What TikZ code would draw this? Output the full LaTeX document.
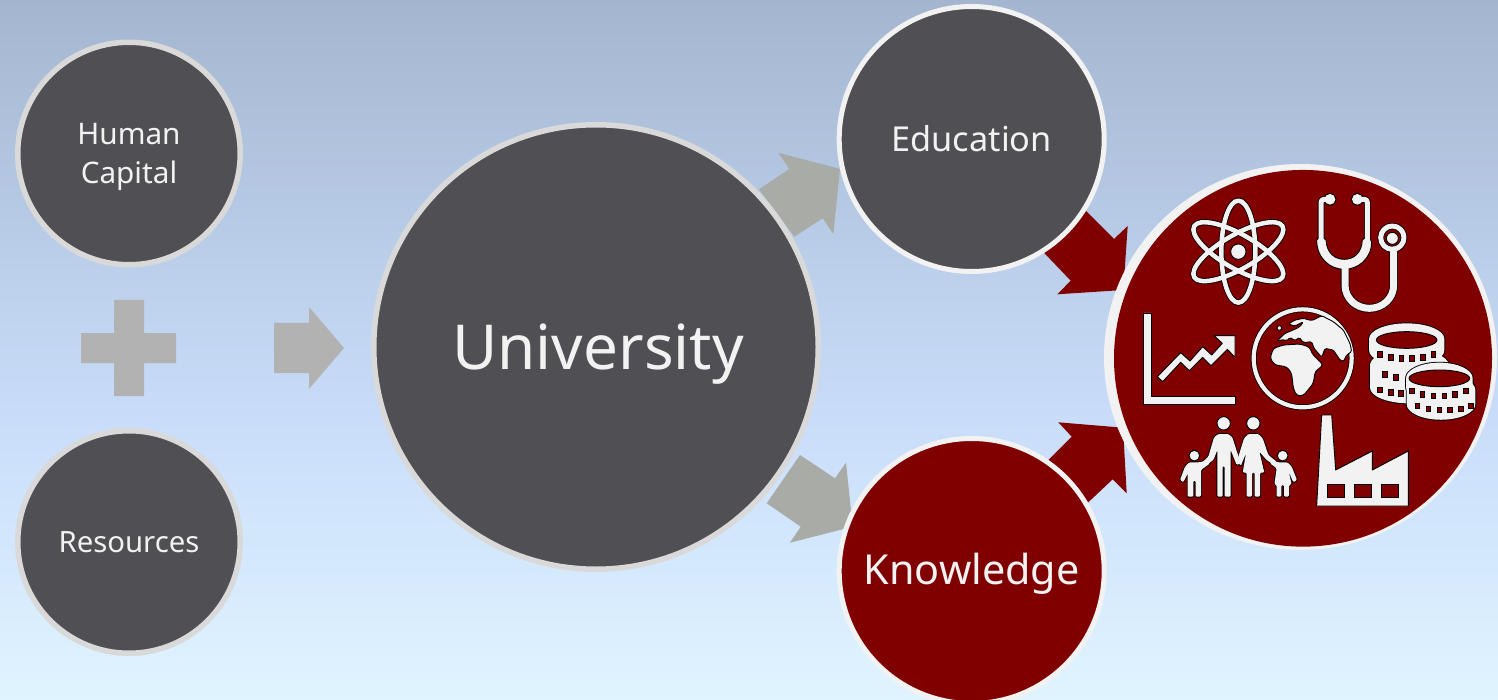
\documentclass[tikz,border=0pt]{standalone}
\usepackage{fontspec}
\usetikzlibrary{shapes.geometric}
\setmainfont{Noto Sans}
\definecolor{bgtop}{RGB}{164,182,207}
\definecolor{bgmid}{RGB}{201,221,250}
\definecolor{bgbot}{RGB}{224,244,255}
\definecolor{darkc}{RGB}{80,79,84}
\definecolor{maroonc}{RGB}{128,0,0}
\definecolor{ringa}{RGB}{217,217,217}
\definecolor{ringb}{RGB}{242,242,242}
\definecolor{plusc}{RGB}{178,178,178}
\definecolor{arrowc}{RGB}{169,171,167}
\pgfdeclareverticalshading{bgsh}{100bp}{color(0bp)=(bgbot); color(25bp)=(bgbot); color(45bp)=(bgmid); color(75bp)=(bgtop); color(100bp)=(bgtop)}
\tikzset{
  bubble/.style={circle,inner sep=0pt,align=center,text=ringb},
  ic/.style={fill=ringb,draw=black,line width=.9pt,line join=round},
  hole/.style={fill=maroonc,draw=black,line width=.9pt},
  edgepass/.style={draw=black,line width=1.8pt,line join=round},
  fillpass/.style={fill=ringb},
  blockgray/.style={fill=arrowc},
  blockplus/.style={fill=plusc},
  blockred/.style={fill=maroonc},
  outl/.style={draw=black,line cap=round,line join=round},
  inl/.style={draw=ringb,line cap=round,line join=round}
}
\newcommand\twopass[2]{\draw[outl,line width=#1pt+1.6pt] #2; \draw[inl,line width=#1pt] #2;}
\newcommand\coinbody[6]{%
  \begin{scope}[shift={(#2,#3)},xscale=#4,yscale=#5]
    \path[#1] (-1,0) .. controls (-1,-.55) and (-.55,-1) .. (0,-1)
      .. controls (.55,-1) and (1,-.55) .. (1,0) -- (1,#6)
      .. controls (1,{#6+.55}) and (.55,{#6+1}) .. (0,{#6+1})
      .. controls (-.55,{#6+1}) and (-1,{#6+.55}) .. (-1,#6) -- cycle;
  \end{scope}}
\newcommand\coinhole[2]{%
  \begin{scope}[shift={(#1,#2)},xscale=91,yscale=25]
    \draw[hole] (0,0) circle (1);
  \end{scope}}
\newcommand\slot[2]{\draw[hole] (#1-7,#2-8) rectangle (#1+7,#2+8);}
\newcommand\familyshapes[1]{%
  \path[#1,rounded corners=1.2pt] (322,410) -- (338,410) -- (338,318) -- (344,318) -- (344,410) -- (362,410) -- (362,270) -- (380,315) -- (392,310)
    -- (367,232) -- (355,222) -- (325,222) -- (312,232) -- (295,290) -- (268,315) -- (275,325) -- (310,300) -- (322,270) -- cycle;
  \path[#1,rounded corners=1.2pt] (398,338) -- (410,338) -- (410,410) -- (426,410) -- (426,338) -- (434,338) -- (434,410) -- (450,410) -- (450,338)
    -- (463,338) -- (448,275) -- (470,300) -- (497,318) -- (500,305) -- (475,285) -- (458,235) -- (445,222) -- (415,222)
    -- (402,235) -- (382,300) -- (392,318) -- (408,280) -- cycle;
  \path[#1,rounded corners=1.2pt] (233,410) -- (250,410) -- (250,362) -- (257,362) -- (257,410) -- (273,410) -- (273,330) -- (300,310) -- (295,300)
    -- (268,307) -- (238,307) -- (225,320) -- (210,360) -- (220,367) -- (233,340) -- cycle;
  \path[#1,rounded corners=1.2pt] (500,410) -- (514,410) -- (514,375) -- (522,375) -- (522,410) -- (537,410) -- (537,375) -- (545,373) -- (536,335)
    -- (550,367) -- (561,360) -- (545,320) -- (532,307) -- (504,307) -- (485,300) -- (480,310) -- (500,325) -- (493,373) -- (500,375) -- cycle;
}
\begin{document}
\begin{tikzpicture}[x=1pt,y=-1pt]
\useasboundingbox (0,0) rectangle (1498,700);
\shade[shading=bgsh] (0,0) rectangle (1498,700);

\fill[blockplus] (114,300) -- (144,300) -- (144,333) -- (176,333) -- (176,363) -- (144,363)
  -- (144,396) -- (114,396) -- (114,363) -- (81,363) -- (81,333) -- (114,333) -- cycle;
\fill[blockplus] (274,323) -- (309,323) -- (309,307) -- (344,348) -- (309,389) -- (309,373) -- (274,373) -- cycle;

\fill[blockgray] (759,189.3) -- (789.3,169) -- (778.3,152.7) -- (840,169) -- (833.3,234)
  -- (822.7,218.3) -- (794.3,236.7) -- cycle;
\fill[blockgray] (800,455) -- (835,478.3) -- (846,462.7) -- (852.7,526.7) -- (790,542.7)
  -- (800.7,526.7) -- (766.7,503.3) -- cycle;
\fill[blockred] (1076.7,201.7) -- (1114,239) -- (1127.7,226) -- (1123.3,290) -- (1057.3,294.3)
  -- (1070.7,280.7) -- (1035,243.3) -- cycle;
\fill[blockred] (1038.3,470) -- (1071.7,436.7) -- (1058.3,422.3) -- (1123,427.7) -- (1126.7,493.3)
  -- (1112.7,479.3) -- (1078.3,511.7) -- cycle;

\node[bubble,fill=darkc,draw=ringa,line width=5.5pt,minimum size=222.5pt,font=\fontsize{29.7}{39}\selectfont] (human) at (129,153.5) {\rule{0pt}{29pt}Human\\Capital};
\node[bubble,fill=darkc,draw=ringa,line width=5.5pt,minimum size=222.5pt,font=\fontsize{29.3}{39}\selectfont] (resources) at (129,542) {Resources};
\node[bubble,fill=darkc,draw=ringa,line width=5.5pt,minimum size=444.5pt,font=\fontsize{62}{70}\selectfont,text height=59pt,text depth=15pt] (university) at (596,347) {\hspace*{4pt}University};
\node[bubble,fill=darkc,draw=ringb,line width=5pt,minimum size=265pt,font=\fontsize{34.3}{40}\selectfont] (education) at (971.7,139) {Education};
\node[bubble,fill=maroonc,draw=ringb,line width=5pt,minimum size=265pt,font=\fontsize{41.3}{46}\selectfont,text height=37pt,text depth=10pt] (knowledge) at (971.7,571) {Knowledge};
\node[ellipse,fill=ringb,inner sep=0pt,minimum width=393pt,minimum height=386pt] (society) at (1300.5,357) {};
\node[ellipse,fill=maroonc,inner sep=0pt,minimum width=378pt,minimum height=376.7pt] (societyin) at (1303,358.3) {};

\begin{scope}[shift={(1110,170)},scale=1/3]
  \foreach \a in {0,60,120} \draw[outl,line width=6.2pt,rotate around={\a:(385,245)}] (385,245) ellipse (51 and 153);
  \foreach \a in {0,60,120} \draw[inl,line width=4.5pt,rotate around={\a:(385,245)}] (385,245) ellipse (51 and 153);
  \draw[ic] (385,245) circle (23);
  \begin{scope}[outl,line width=8.6pt]
    \draw (705,290) -- (705,345) .. controls (705,385) and (738,415) .. (778,415) .. controls (818,415) and (851,385) .. (851,345) -- (851,240);
  \end{scope}
  \begin{scope}[outl,line width=6.6pt]
    \draw[rounded corners=3pt] (660,88) -- (633,88) -- (633,215);
    \draw[rounded corners=3pt] (742,88) -- (772,88) -- (772,215);
    \draw (847,203) circle (35);
  \end{scope}
  \filldraw[outl,fill=black,line width=1.6pt] (660,88) circle (17) (742,88) circle (17);
  \draw[ic] (620,210) .. controls (625,200) and (640,200) .. (648,210) .. controls (650,250) and (675,268) .. (703,268)
     .. controls (730,268) and (755,250) .. (757,210) .. controls (765,200) and (780,200) .. (785,215)
     .. controls (785,265) and (745,298) .. (703,298) .. controls (660,298) and (620,265) .. (620,210) -- cycle;
  \begin{scope}[inl,line width=7pt]
    \draw (705,290) -- (705,345) .. controls (705,385) and (738,415) .. (778,415) .. controls (818,415) and (851,385) .. (851,345) -- (851,240);
  \end{scope}
  \begin{scope}[inl,line width=5pt]
    \draw[rounded corners=3pt] (660,88) -- (633,88) -- (633,215);
    \draw[rounded corners=3pt] (742,88) -- (772,88) -- (772,215);
    \draw (847,203) circle (35);
  \end{scope}
  \fill[ringb] (660,88) circle (16) (742,88) circle (16);
  \draw[ic] (847,205) circle (18);
\end{scope}

\begin{scope}[shift={(1135,305)},scale=1/3]
  \draw[ic] (26,24) -- (48,24) -- (48,274) -- (300,274) -- (300,297) -- (26,297) -- cycle;
  \draw[ic] (67,215) -- (137,143) -- (165,168) -- (203,125) -- (230,150) -- (262,115) -- (237,92) -- (300,92)
    -- (300,157) -- (277,133) -- (228,182) -- (203,157) -- (163,197) -- (137,172) -- (83,230) -- cycle;
\end{scope}

\begin{scope}[shift={(1240,300)},scale=1/3]
  \twopass{4.2}{(188,175) circle (147)}
  \draw[ic,rounded corners=1.5pt] (245,47) -- (215,62) -- (190,55) -- (165,60) -- (145,72) -- (165,78) -- (190,65) -- (180,80)
    -- (160,90) -- (135,100) -- (110,125) -- (130,118) -- (140,123) -- (150,112) -- (165,122) -- (178,112) -- (190,128)
    -- (215,125) -- (222,145) -- (245,172) -- (255,145)
    -- (280,150) -- (300,180) -- (310,185) -- (320,165) -- (335,155) -- (330,130) -- (310,90) -- (280,65) -- cycle;
  \draw[ic,rounded corners=3pt] (90,175) -- (100,145) -- (130,135) -- (180,132) -- (210,142) -- (215,160) -- (250,195)
    -- (225,215) -- (220,250) -- (190,287) -- (170,287) -- (160,265) -- (155,220) -- (140,200) -- (105,195) -- cycle;
  \draw[ic] (118,84) circle (7);
\end{scope}

\begin{scope}[shift={(1360,315)},scale=1/3]
  \coinbody{edgepass}{148}{150}{118}{47}{1.45}
  \coinbody{edgepass}{140}{72}{113}{47}{.72}
  \coinbody{fillpass}{148}{150}{118}{47}{1.45}
  \coinbody{fillpass}{140}{72}{113}{47}{.72}
  \slot{75}{178}\slot{108}{187}
  \slot{60}{225}\slot{92}{232}\slot{122}{235}
  \coinhole{140}{75}
  \slot{60}{118}\slot{92}{127}\slot{124}{130}\slot{156}{130}\slot{188}{127}\slot{220}{118}
  \coinbody{edgepass}{243}{225}{103}{47}{.9}
  \coinbody{edgepass}{238}{190}{100}{47}{.55}
  \coinbody{fillpass}{243}{225}{103}{47}{.9}
  \coinbody{fillpass}{238}{190}{100}{47}{.55}
  \coinhole{238}{190}
  \slot{155}{228}\slot{187}{238}\slot{220}{243}\slot{253}{243}\slot{285}{238}\slot{318}{228}
  \slot{172}{272}\slot{205}{281}\slot{238}{284}\slot{270}{284}\slot{302}{281}\slot{333}{272}
\end{scope}

\begin{scope}[shift={(1110,360)},scale=1/3]
  \draw[ic] (341,190) circle (20);
  \draw[ic] (430,190) circle (20);
  \draw[ic] (253,287) circle (16);
  \draw[ic] (518,287) circle (16);
  \familyshapes{edgepass}
  \familyshapes{fillpass}
  \draw[ic] (620,438) -- (635,165) -- (665,165) -- (677,330) -- (787,273) -- (787,330) -- (895,273) -- (895,438) -- cycle;
  \draw[hole] (652,373) rectangle (702,411);
  \draw[hole] (733,373) rectangle (783,411);
  \draw[hole] (814,373) rectangle (864,411);
\end{scope}
\end{tikzpicture}
\end{document}
